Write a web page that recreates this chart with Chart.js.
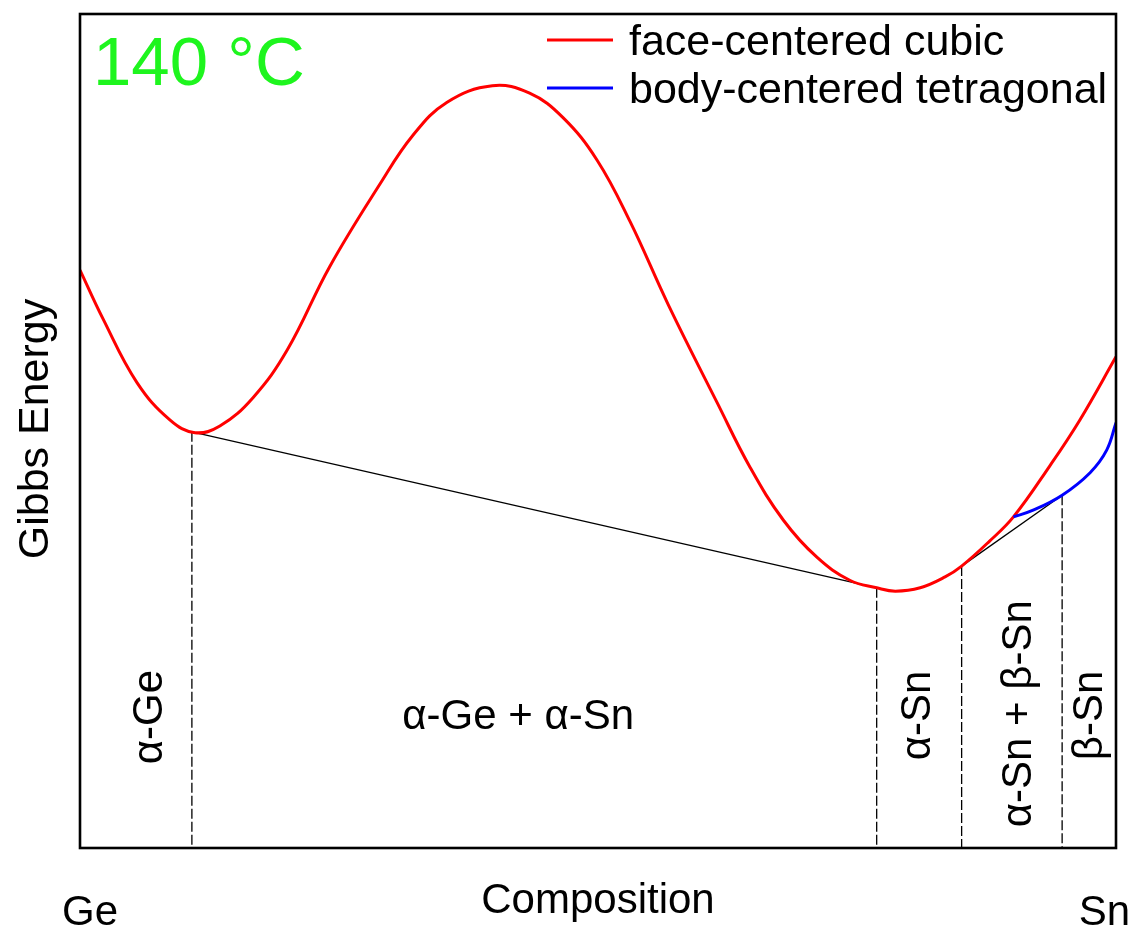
<!DOCTYPE html>
<html>
<head>
<meta charset="utf-8">
<script src="https://cdn.jsdelivr.net/npm/chart.js@4.4.1/dist/chart.umd.min.js"></script>
<style>
  html, body { margin: 0; padding: 0; background: #fff; }
  #wrap { width: 1132px; height: 928px; position: relative; }
</style>
</head>
<body>
<div id="wrap"><canvas id="gibbs"></canvas></div>
<script>
// composition (0 = Ge, 1 = Sn) and Gibbs energy (arbitrary units)
const fccX = [0, 0.022, 0.055, 0.087, 0.111, 0.135, 0.167, 0.200, 0.241, 0.290, 0.321, 0.354, 0.398, 0.434, 0.466, 0.499, 0.531, 0.568, 0.615, 0.647, 0.679, 0.711, 0.743, 0.769, 0.787, 0.811, 0.835, 0.851, 0.878, 0.901, 0.936, 0.965, 1.0];
const fccG = [69.3, 63.5, 55.8, 51.3, 49.8, 50.6, 54.0, 59.7, 69.7, 79.7, 85.4, 89.4, 91.4, 90.5, 87.6, 82.5, 75.1, 65.1, 53.4, 45.6, 39.3, 34.9, 32.1, 31.2, 30.8, 31.2, 32.5, 33.8, 36.8, 39.7, 45.8, 51.3, 58.9];

const bctX = [0.901, 0.920, 0.948, 0.975, 0.991, 1.0];
const bctG = [39.7, 40.5, 42.3, 45.0, 47.7, 51.0];

// common tangents: [x1, g1, x2, g2]
const tangents = [
  [0.108, 49.9, 0.769, 31.2],
  [0.851, 33.8, 0.948, 42.3]
];

// phase boundaries (composition, energy where the tangent touches)
const boundX = [0.108, 0.769, 0.851, 0.948];
const boundG = [49.9, 31.2, 33.8, 42.3];

// phase field labels: text, x, g, rotated
const phaseLabels = [
  ['α-Ge', 0.0676, 15.7, true],
  ['α-Ge + α-Sn', 0.423, 15.7, false],
  ['α-Sn', 0.809, 15.9, true],
  ['α-Sn + β-Sn', 0.907, 16.1, true],
  ['β-Sn', 0.975, 15.9, true]
];

const seriesNames = ['face-centered cubic', 'body-centered tetragonal'];
const seriesColors = ['#ff0000', '#0000ff'];
const tempLabel = '140 °C';
const FONT = '"Liberation Sans", Arial, sans-serif';

const pts = (xs, ys) => xs.map((x, i) => ({ x, y: ys[i] }));

const datasets = [
  { label: seriesNames[0], data: pts(fccX, fccG), borderColor: seriesColors[0], borderWidth: 3, tension: 0.4, order: 1 },
  { label: seriesNames[1], data: pts(bctX, bctG), borderColor: seriesColors[1], borderWidth: 3, tension: 0.4, order: 0 }
];
tangents.forEach(t => datasets.push({
  data: [{ x: t[0], y: t[1] }, { x: t[2], y: t[3] }],
  borderColor: '#000', borderWidth: 1.3, order: 3
}));
boundX.forEach((x, i) => datasets.push({
  data: [{ x, y: boundG[i] }, { x, y: 0 }],
  borderColor: '#000', borderWidth: 1.3, borderDash: [10, 3], order: 3
}));

const decor = {
  id: 'decor',
  afterDraw(chart) {
    const { ctx, chartArea: a, scales: { x, y } } = chart;
    ctx.save();
    // frame
    ctx.strokeStyle = '#000';
    ctx.lineWidth = 2.6;
    ctx.strokeRect(a.left, a.top, a.right - a.left, a.bottom - a.top);

    ctx.fillStyle = '#000';
    ctx.textBaseline = 'middle';
    ctx.font = '42px ' + FONT;
    phaseLabels.forEach(([txt, px, py, rot]) => {
      ctx.save();
      ctx.translate(x.getPixelForValue(px), y.getPixelForValue(py));
      if (rot) ctx.rotate(-Math.PI / 2);
      ctx.textAlign = 'center';
      ctx.fillText(txt, 0, 0);
      ctx.restore();
    });

    // temperature
    ctx.textBaseline = 'alphabetic';
    ctx.textAlign = 'left';
    ctx.fillStyle = '#1ef51e';
    ctx.font = '69px ' + FONT;
    ctx.fillText(tempLabel, 93, 85);

    // legend
    ctx.font = '43px ' + FONT;
    ctx.fillStyle = '#000';
    seriesNames.forEach((name, i) => {
      const ly = 40 + i * 48;
      ctx.strokeStyle = seriesColors[i];
      ctx.lineWidth = 3;
      ctx.beginPath();
      ctx.moveTo(547, ly);
      ctx.lineTo(613, ly);
      ctx.stroke();
      ctx.fillText(name, 629, ly + 15);
    });

    // axis texts
    ctx.font = '42px ' + FONT;
    ctx.textAlign = 'center';
    ctx.fillText('Composition', 598, 913);
    ctx.textAlign = 'left';
    ctx.fillText('Ge', 62, 925);
    ctx.textAlign = 'right';
    ctx.fillText('Sn', 1130, 925);
    ctx.save();
    ctx.translate(48, 429);
    ctx.rotate(-Math.PI / 2);
    ctx.textAlign = 'center';
    ctx.font = '43px ' + FONT;
    ctx.fillText('Gibbs Energy', 0, 0);
    ctx.restore();
    ctx.restore();
  }
};

new Chart(document.getElementById('gibbs'), {
  type: 'line',
  data: { datasets },
  options: {
    responsive: true,
    maintainAspectRatio: false,
    animation: false,
    layout: { padding: { left: 80, top: 14, right: 16, bottom: 80 } },
    elements: { point: { radius: 0 }, line: { fill: false } },
    plugins: { legend: { display: false }, tooltip: { enabled: false } },
    scales: {
      x: { type: 'linear', min: 0, max: 1, display: false },
      y: { type: 'linear', min: 0, max: 100, display: false }
    }
  },
  plugins: [decor]
});
</script>
</body>
</html>
